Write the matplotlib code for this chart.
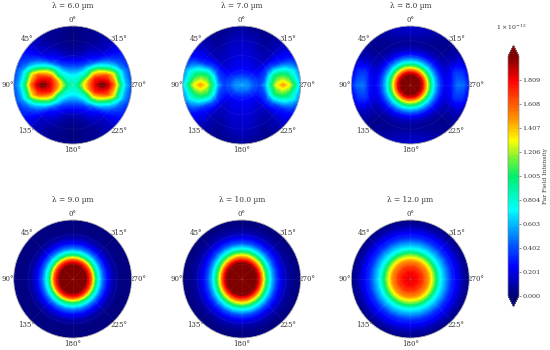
import numpy as np
import matplotlib
matplotlib.use("Agg")
import matplotlib.pyplot as plt
from matplotlib.colors import LinearSegmentedColormap

plt.rcParams["font.family"] = ["DejaVu Serif"]
plt.rcParams["mathtext.fontset"] = "dejavuserif"

# ===== DATA =====
wavelengths = [6.0, 7.0, 8.0, 9.0, 10.0, 12.0]
radii = [0.0, 0.1, 0.2, 0.3, 0.4, 0.5, 0.6, 0.7, 0.8, 0.9, 1.0]
# Angle from the top of the disc, one quadrant. The other three are mirror images.
quadrant_deg = [0, 15, 30, 45, 60, 75, 90]
angle_ticks = [0, 45, 90, 135, 180, 225, 270, 315]
cbar_ticks = [0.000, 0.201, 0.402, 0.603, 0.804, 1.005, 1.206, 1.407, 1.608, 1.809]

# Intensity in units of 1e-12, rows follow radii, columns follow quadrant_deg
intensity_6 = [
    [.85, .85, .85, .85, .85, .85, .85],
    [.80, .80, .80, .82, .86, .92, .95],
    [.62, .64, .72, .80, .98, 1.20, 1.30],
    [.42, .44, .55, .75, 1.05, 1.50, 1.62],
    [.25, .27, .36, .70, 1.25, 1.75, 1.88],
    [.12, .14, .25, .48, 1.15, 1.72, 2.05],
    [.06, .08, .18, .30, .85, 1.62, 1.90],
    [.03, .05, .12, .20, .60, 1.32, 1.55],
    [.02, .04, .08, .15, .42, .85, 1.00],
    [.02, .04, .06, .14, .33, .52, .60],
    [.03, .05, .08, .15, .30, .38, .40],
]
intensity_7 = [
    [.55, .55, .55, .55, .55, .55, .55],
    [.45, .45, .46, .48, .50, .51, .52],
    [.30, .30, .31, .33, .36, .40, .42],
    [.22, .22, .22, .23, .28, .34, .36],
    [.20, .20, .18, .17, .30, .40, .55],
    [.18, .17, .14, .14, .38, .75, .95],
    [.16, .15, .11, .12, .42, 1.00, 1.30],
    [.15, .13, .08, .11, .35, 1.00, 1.45],
    [.12, .10, .06, .12, .30, .90, 1.30],
    [.10, .07, .05, .12, .28, .70, .95],
    [.06, .04, .04, .11, .24, .50, .60],
]
intensity_8 = [
    [2.30, 2.30, 2.30, 2.30, 2.30, 2.30, 2.30],
    [2.15, 2.15, 2.15, 2.15, 2.15, 2.15, 2.15],
    [1.85, 1.85, 1.85, 1.85, 1.85, 1.85, 1.85],
    [1.20, 1.20, 1.20, 1.20, 1.20, 1.20, 1.20],
    [.65, .65, .65, .66, .66, .67, .67],
    [.30, .30, .31, .32, .33, .34, .35],
    [.12, .12, .13, .14, .16, .19, .20],
    [.06, .06, .06, .07, .11, .23, .28],
    [.08, .07, .05, .04, .12, .36, .47],
    [.14, .11, .06, .04, .12, .33, .45],
    [.15, .13, .08, .05, .10, .22, .28],
]
intensity_9 = [
    [2.60, 2.60, 2.60, 2.60, 2.60, 2.60, 2.60],
    [2.45, 2.45, 2.45, 2.45, 2.45, 2.45, 2.45],
    [2.15, 2.15, 2.14, 2.13, 2.12, 2.10, 2.10],
    [1.72, 1.71, 1.70, 1.68, 1.66, 1.65, 1.65],
    [1.00, .99, .97, .95, .93, .91, .90],
    [.52, .52, .51, .50, .49, .48, .48],
    [.24, .24, .23, .23, .22, .22, .22],
    [.09, .09, .09, .08, .08, .08, .08],
    [.03, .03, .03, .03, .03, .03, .03],
    [.02, .02, .02, .02, .02, .02, .02],
    [.02, .02, .02, .02, .02, .02, .02],
]
intensity_10 = [
    [2.60, 2.60, 2.60, 2.60, 2.60, 2.60, 2.60],
    [2.50, 2.50, 2.50, 2.50, 2.50, 2.50, 2.50],
    [2.25, 2.25, 2.24, 2.23, 2.22, 2.20, 2.20],
    [1.85, 1.84, 1.82, 1.80, 1.78, 1.76, 1.75],
    [1.30, 1.28, 1.24, 1.20, 1.15, 1.11, 1.10],
    [.78, .77, .74, .70, .66, .63, .62],
    [.42, .41, .39, .37, .35, .33, .33],
    [.20, .20, .19, .18, .17, .16, .16],
    [.08, .08, .08, .07, .07, .07, .07],
    [.03, .03, .03, .03, .03, .03, .03],
    [.02, .02, .02, .02, .02, .02, .02],
]
intensity_12 = [
    [1.85, 1.85, 1.85, 1.85, 1.85, 1.85, 1.85],
    [1.80, 1.80, 1.80, 1.80, 1.80, 1.80, 1.80],
    [1.68, 1.68, 1.68, 1.68, 1.68, 1.68, 1.68],
    [1.48, 1.48, 1.48, 1.48, 1.48, 1.48, 1.48],
    [1.15, 1.15, 1.15, 1.15, 1.15, 1.15, 1.15],
    [.75, .75, .75, .75, .75, .75, .75],
    [.53, .53, .53, .53, .53, .53, .53],
    [.32, .32, .32, .32, .32, .32, .32],
    [.20, .20, .20, .20, .20, .20, .20],
    [.08, .08, .08, .08, .08, .08, .08],
    [.02, .02, .02, .02, .02, .02, .02],
]
panels = [intensity_6, intensity_7, intensity_8, intensity_9, intensity_10, intensity_12]
# ================

W, H = 550, 350
VMAX = 2.01
levels = np.linspace(0, VMAX, 129)
text_color = "#333333"

# Rainbow, greener and more saturated than jet
cmap = LinearSegmentedColormap.from_list("far_field", [
    (0.00, (0.0, 0.0, 0.45)),
    (0.12, (0.0, 0.0, 1.0)),
    (0.21, (0.0, 0.33, 1.0)),
    (0.27, (0.0, 0.6, 1.0)),
    (0.36, (0.0, 1.0, 1.0)),
    (0.50, (0.0, 0.94, 0.42)),
    (0.58, (0.5, 0.95, 0.2)),
    (0.65, (1.0, 1.0, 0.0)),
    (0.73, (1.0, 0.62, 0.0)),
    (0.90, (1.0, 0.0, 0.0)),
    (1.00, (0.5, 0.0, 0.0)),
], N=256)
cmap.set_under(cmap(0.0))
cmap.set_over(cmap(1.0))

# Panel centres in pixels
centres = [(72.7, 85), (241.7, 85), (410.3, 85), (72.7, 279), (241.7, 279), (410.3, 279)]
disc_r = 59


def full_circle(table):
    # Mirror one quadrant into the whole disc
    half = np.hstack([np.array(table), np.array(table)[:, -2::-1]])
    return np.hstack([half, half[:, -2::-1]])


q = np.array(quadrant_deg, dtype=float)
half_deg = np.concatenate([q, 180 - q[-2::-1]])
all_deg = np.concatenate([half_deg, 360 - half_deg[-2::-1]])
theta = np.deg2rad(all_deg)

fig = plt.figure(figsize=(W / 100, H / 100), dpi=100)

for (cx, cy), lam, table in zip(centres, wavelengths, panels):
    ax = fig.add_axes(
        [(cx - disc_r) / W, 1 - (cy + disc_r) / H, 2 * disc_r / W, 2 * disc_r / H],
        projection="polar",
    )
    ax.set_theta_zero_location("N")
    ax.set_theta_direction(1)
    cs = ax.contourf(theta, radii, full_circle(table), levels=levels, cmap=cmap,
                     extend="both", antialiased=False)
    ax.set_ylim(0, 1)
    ax.set_yticks([0.25, 0.5, 0.75])
    ax.set_yticklabels([])
    ax.set_xticks(np.deg2rad(angle_ticks))
    ax.set_xticklabels([f"{a}°" for a in angle_ticks], fontsize=5, color=text_color)
    ax.tick_params(axis="x", pad=-6)
    ax.grid(True, color="white", alpha=0.07, linewidth=0.5)
    ax.spines["polar"].set_color("#aaaaaa")
    ax.spines["polar"].set_linewidth(0.6)
    fig.text(cx / W, 1 - (cy - 78.5) / H, f"λ = {lam:.1f} µm", fontsize=5.3,
             color=text_color, ha="center", va="center")

cax = fig.add_axes([508 / W, 1 - 307 / H, 11 / W, 262 / H])
cbar = fig.colorbar(cs, cax=cax, extend="both", extendfrac=0.047, ticks=cbar_ticks)
cbar.ax.set_yticklabels([f"{t:.3f}" for t in cbar_ticks])
cbar.ax.tick_params(labelsize=4.6, length=1.5, width=0.4, pad=1, colors=text_color)
cbar.outline.set_edgecolor("#888888")
cbar.outline.set_linewidth(0.5)
cbar.set_label("Far Field Intensity", fontsize=4.3, color=text_color, labelpad=2)
fig.text(511 / W, 1 - 27 / H, r"$1\times10^{-12}$", fontsize=4.5, color=text_color,
         ha="center", va="center")

fig.savefig("out.png", dpi=100)
